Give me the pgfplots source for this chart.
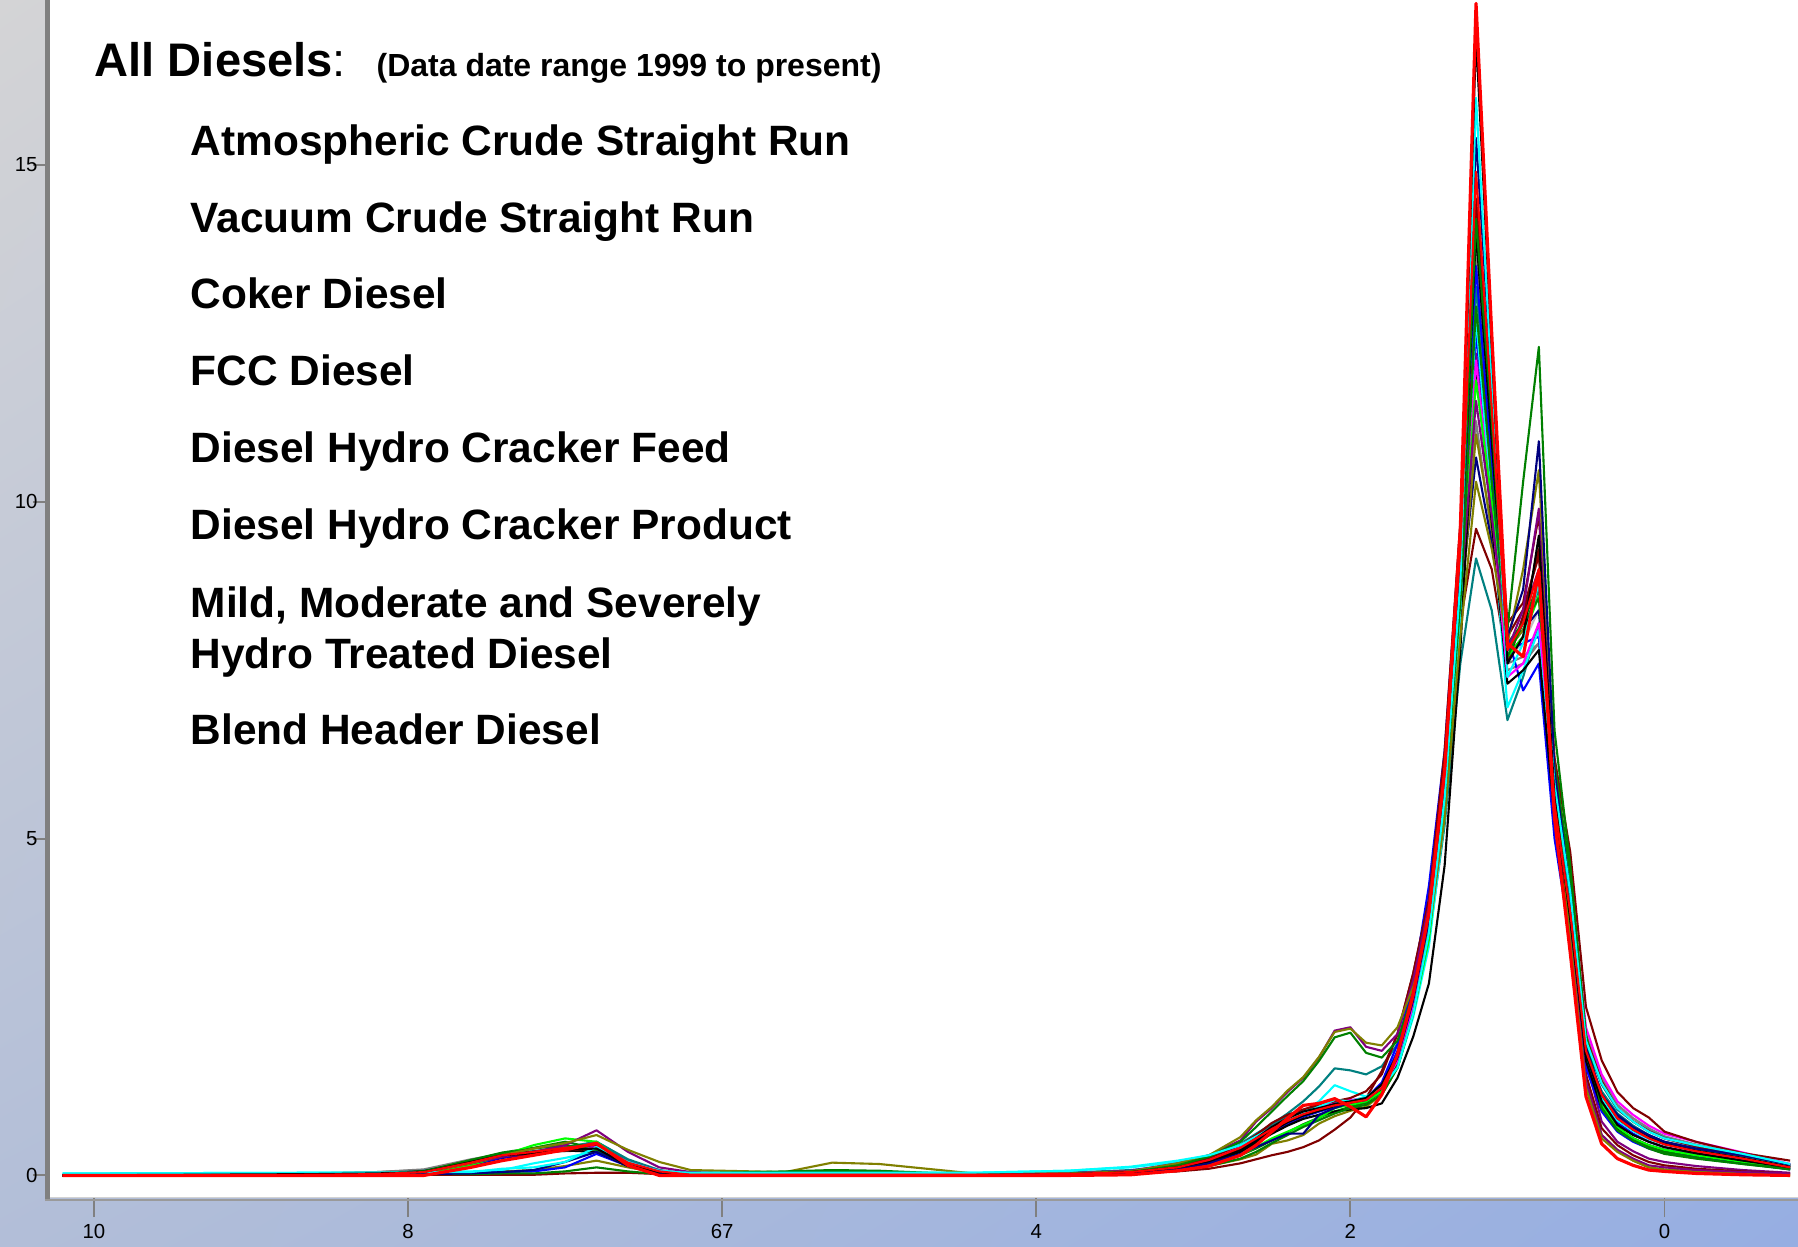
\documentclass[border=0pt]{standalone}
\usepackage{pgfplots}
\pgfplotsset{compat=1.18}
\usetikzlibrary{shadings}
\usepackage{fontspec}
\setmainfont{Liberation Sans}

\definecolor{bgUL}{RGB}{212,212,214}
\definecolor{bgUR}{RGB}{176,190,222}
\definecolor{bgLL}{RGB}{178,190,216}
\definecolor{bgLR}{RGB}{150,174,226}
\definecolor{axgray}{RGB}{128,128,128}
\definecolor{cnavy}{RGB}{0,0,128}
\definecolor{cmaroon}{RGB}{128,0,0}
\definecolor{colive}{RGB}{128,128,0}
\definecolor{cteal}{RGB}{0,128,128}
\definecolor{cpurple}{RGB}{128,0,128}
\definecolor{cgreen}{RGB}{0,128,0}
\definecolor{clime}{RGB}{0,255,0}
\definecolor{cgray}{RGB}{128,128,128}
\definecolor{csilver}{RGB}{192,192,192}
\definecolor{ccyan}{RGB}{0,255,255}
\definecolor{cmagenta}{RGB}{255,0,255}
\definecolor{cblue}{RGB}{0,0,255}
\definecolor{cred}{RGB}{255,0,0}

\begin{document}
\begin{tikzpicture}
% background gradient behind the plot area
\shade[upper left=bgUL, upper right=bgUR, lower left=bgLL, lower right=bgLR]
  (-5mm,-4.9mm) rectangle (174.8mm,119.7mm);

\begin{axis}[
  at={(0,0)}, anchor=south west,
  scale only axis, width=174.8mm, height=119.7mm,
  x dir=reverse,
  xmin=-0.85, xmax=10.28,
  ymin=-0.32, ymax=17.45,
  axis background/.style={fill=white},
  axis line style={draw=none},
  xtick={10,8,6,4,2,0},
  xticklabels={10,8,67,4,2,0},
  ytick={0,5,10,15},
  xtick pos=bottom, ytick pos=left,
  tick align=outside,
  xtick style={/pgfplots/major tick length=2.0mm, draw=axgray, line width=0.55pt},
  ytick style={/pgfplots/major tick length=1.7mm, draw=axgray, line width=0.55pt},
  ticklabel style={font=\fontsize{5.8}{7}\selectfont},
  yticklabel style={xshift=1.5mm},
  /pgf/number format/assume math mode=true,
  every axis plot/.append style={line width=0.6pt, line join=round},
]

\addplot[csilver] coordinates {(10.2,0.01)(8.6,0.02)(8.2,0.04)(7.9,0.07)(7.6,0.2)(7.4,0.29)(7.2,0.33)(7.0,0.37)(6.8,0.4)(6.6,0.17)(6.4,0.05)(6.2,0.02)(5.6,0.02)(5.3,0.02)(5.0,0.02)(4.7,0.02)(4.4,0.02)(3.8,0.03)(3.4,0.06)(3.1,0.13)(2.9,0.25)(2.7,0.43)(2.6,0.57)(2.5,0.72)(2.4,0.84)(2.3,0.93)(2.2,0.99)(2.1,1.05)(2.0,1.09)(1.9,1.13)(1.8,1.3)(1.7,1.7)(1.6,2.5)(1.5,3.7)(1.4,5.7)(1.3,8.7)(1.2,12.3)(1.1,10.1)(1.0,7.7)(0.9,7.9)(0.8,8.4)(0.7,5.7)(0.6,4.1)(0.5,2.0)(0.4,1.4)(0.3,1.02)(0.2,0.82)(0.1,0.68)(0.0,0.58)(-0.2,0.45)(-0.5,0.32)(-0.8,0.16)};

\addplot[cgray] coordinates {(10.2,0.01)(8.6,0.03)(8.2,0.05)(7.9,0.08)(7.6,0.22)(7.4,0.3)(7.2,0.34)(7.0,0.36)(6.8,0.38)(6.6,0.15)(6.4,0.05)(6.2,0.03)(5.6,0.03)(5.3,0.03)(5.0,0.03)(4.7,0.03)(4.4,0.03)(3.8,0.04)(3.4,0.07)(3.1,0.14)(2.9,0.26)(2.7,0.45)(2.6,0.6)(2.5,0.74)(2.4,0.86)(2.3,0.95)(2.2,1.0)(2.1,1.06)(2.0,1.1)(1.9,1.15)(1.8,1.32)(1.7,1.75)(1.6,2.55)(1.5,3.7)(1.4,5.8)(1.3,9.1)(1.2,13.8)(1.1,10.8)(1.0,7.6)(0.9,7.7)(0.8,7.9)(0.7,5.4)(0.6,4.0)(0.5,1.95)(0.4,1.37)(0.3,1.0)(0.2,0.8)(0.1,0.65)(0.0,0.55)(-0.2,0.43)(-0.5,0.3)(-0.8,0.14)};

\addplot[cgray] coordinates {(10.2,0.01)(8.6,0.03)(8.2,0.05)(7.9,0.09)(7.6,0.24)(7.4,0.32)(7.2,0.36)(7.0,0.38)(6.8,0.36)(6.6,0.16)(6.4,0.05)(6.2,0.02)(5.6,0.02)(5.3,0.02)(5.0,0.02)(4.7,0.02)(4.4,0.02)(3.8,0.03)(3.4,0.06)(3.1,0.13)(2.9,0.25)(2.7,0.44)(2.6,0.58)(2.5,0.72)(2.4,0.85)(2.3,0.94)(2.2,1.0)(2.1,1.07)(2.0,1.1)(1.9,1.14)(1.8,1.3)(1.7,1.72)(1.6,2.55)(1.5,3.75)(1.4,5.8)(1.3,8.4)(1.2,11.2)(1.1,9.5)(1.0,7.5)(0.9,7.6)(0.8,7.9)(0.7,5.6)(0.6,4.2)(0.5,2.1)(0.4,1.45)(0.3,1.05)(0.2,0.85)(0.1,0.7)(0.0,0.58)(-0.2,0.46)(-0.5,0.32)(-0.8,0.16)};

\addplot[cteal] coordinates {(10.2,0)(8.6,0.01)(8.2,0.03)(7.9,0.07)(7.6,0.2)(7.4,0.31)(7.2,0.36)(7.0,0.42)(6.8,0.5)(6.6,0.22)(6.4,0.07)(6.2,0.02)(5.6,0.02)(5.3,0.02)(5.0,0.02)(4.7,0.02)(4.4,0.02)(3.8,0.04)(3.4,0.08)(3.1,0.15)(2.9,0.27)(2.7,0.47)(2.6,0.62)(2.5,0.76)(2.4,0.88)(2.3,0.96)(2.2,1.02)(2.1,1.08)(2.0,1.1)(1.9,1.14)(1.8,1.33)(1.7,1.8)(1.6,2.65)(1.5,3.85)(1.4,5.9)(1.3,9.0)(1.2,13.2)(1.1,10.6)(1.0,7.8)(0.9,8.1)(0.8,8.7)(0.7,5.8)(0.6,4.1)(0.5,1.95)(0.4,1.35)(0.3,0.98)(0.2,0.8)(0.1,0.66)(0.0,0.56)(-0.2,0.44)(-0.5,0.31)(-0.8,0.16)};

\addplot[cteal] coordinates {(10.2,0)(8.6,0.01)(8.2,0.02)(7.9,0.05)(7.6,0.18)(7.4,0.29)(7.2,0.34)(7.0,0.4)(6.8,0.5)(6.6,0.24)(6.4,0.08)(6.2,0.02)(5.6,0.02)(5.3,0.02)(5.0,0.02)(4.7,0.02)(4.4,0.02)(3.8,0.03)(3.4,0.06)(3.1,0.14)(2.9,0.26)(2.7,0.46)(2.6,0.6)(2.5,0.76)(2.4,0.92)(2.3,1.1)(2.2,1.32)(2.1,1.59)(2.0,1.56)(1.9,1.5)(1.8,1.62)(1.7,1.95)(1.6,2.6)(1.5,3.5)(1.4,5.2)(1.3,7.6)(1.2,9.16)(1.1,8.39)(1.0,6.76)(0.9,7.4)(0.8,8.2)(0.7,5.4)(0.6,3.8)(0.5,1.8)(0.4,1.25)(0.3,0.92)(0.2,0.74)(0.1,0.6)(0.0,0.5)(-0.2,0.4)(-0.5,0.28)(-0.8,0.14)};

\addplot[cnavy] coordinates {(10.2,0)(8.6,0.01)(8.2,0.02)(7.9,0.04)(7.6,0.15)(7.4,0.26)(7.2,0.32)(7.0,0.38)(6.8,0.4)(6.6,0.16)(6.4,0.05)(6.2,0.01)(5.6,0.01)(5.3,0.01)(5.0,0.01)(4.7,0.01)(4.4,0.01)(3.8,0.02)(3.4,0.05)(3.1,0.11)(2.9,0.21)(2.7,0.38)(2.6,0.5)(2.5,0.64)(2.4,0.77)(2.3,0.87)(2.2,0.95)(2.1,1.02)(2.0,1.06)(1.9,1.1)(1.8,1.28)(1.7,1.7)(1.6,2.55)(1.5,3.75)(1.4,5.8)(1.3,8.5)(1.2,10.66)(1.1,9.4)(1.0,7.9)(0.9,8.1)(0.8,8.39)(0.7,5.5)(0.6,3.8)(0.5,1.8)(0.4,1.2)(0.3,0.88)(0.2,0.7)(0.1,0.58)(0.0,0.48)(-0.2,0.38)(-0.5,0.27)(-0.8,0.13)};

\addplot[cpurple] coordinates {(10.2,0)(8.6,0.01)(8.2,0.02)(7.9,0.05)(7.6,0.17)(7.4,0.28)(7.2,0.33)(7.0,0.38)(6.8,0.44)(6.6,0.2)(6.4,0.07)(6.2,0.02)(5.6,0.01)(5.3,0.01)(5.0,0.01)(4.7,0.01)(4.4,0.01)(3.8,0.02)(3.4,0.05)(3.1,0.1)(2.9,0.2)(2.7,0.36)(2.6,0.5)(2.5,0.64)(2.4,0.78)(2.3,0.88)(2.2,0.96)(2.1,1.03)(2.0,1.07)(1.9,1.12)(1.8,1.32)(1.7,1.78)(1.6,2.6)(1.5,3.8)(1.4,5.8)(1.3,8.8)(1.2,12.2)(1.1,10.0)(1.0,7.6)(0.9,8.3)(0.8,9.0)(0.7,6.1)(0.6,4.3)(0.5,1.7)(0.4,0.8)(0.3,0.5)(0.2,0.36)(0.1,0.25)(0.0,0.2)(-0.2,0.14)(-0.5,0.08)(-0.8,0.04)};

\addplot[colive] coordinates {(10.2,0)(8.6,0.01)(8.2,0.01)(7.9,0.02)(7.6,0.04)(7.4,0.06)(7.2,0.08)(7.0,0.14)(6.8,0.22)(6.6,0.12)(6.4,0.04)(6.2,0.01)(5.6,0.01)(5.3,0.01)(5.0,0.01)(4.7,0.01)(4.4,0.01)(3.8,0.02)(3.4,0.04)(3.1,0.08)(2.9,0.14)(2.7,0.24)(2.6,0.31)(2.5,0.47)(2.4,0.52)(2.3,0.6)(2.2,0.77)(2.1,0.88)(2.0,0.96)(1.9,1.02)(1.8,1.2)(1.7,1.6)(1.6,2.4)(1.5,3.5)(1.4,5.4)(1.3,8.3)(1.2,11.0)(1.1,9.6)(1.0,7.8)(0.9,8.1)(0.8,8.6)(0.7,5.6)(0.6,3.6)(0.5,1.4)(0.4,0.6)(0.3,0.38)(0.2,0.22)(0.1,0.12)(0.0,0.09)(-0.2,0.06)(-0.5,0.03)(-0.8,0.01)};

\addplot[cmaroon] coordinates {(10.2,0)(8.6,0.02)(8.2,0.03)(7.9,0.06)(7.6,0.2)(7.4,0.3)(7.2,0.35)(7.0,0.4)(6.8,0.43)(6.6,0.18)(6.4,0.06)(6.2,0.02)(5.6,0.02)(5.3,0.02)(5.0,0.02)(4.7,0.02)(4.4,0.02)(3.8,0.03)(3.4,0.06)(3.1,0.13)(2.9,0.24)(2.7,0.42)(2.6,0.56)(2.5,0.7)(2.4,0.82)(2.3,0.92)(2.2,0.98)(2.1,1.05)(2.0,1.09)(1.9,1.13)(1.8,1.33)(1.7,1.82)(1.6,2.7)(1.5,3.95)(1.4,6.1)(1.3,9.3)(1.2,12.8)(1.1,10.6)(1.0,8.0)(0.9,8.4)(0.8,9.2)(0.7,5.9)(0.6,4.3)(0.5,2.05)(0.4,1.4)(0.3,1.0)(0.2,0.8)(0.1,0.66)(0.0,0.55)(-0.2,0.43)(-0.5,0.3)(-0.8,0.15)};

\addplot[cmaroon] coordinates {(10.2,0)(8.6,0)(8.2,0.01)(7.9,0.01)(7.6,0.01)(7.4,0.01)(7.2,0.01)(7.0,0.03)(6.8,0.04)(6.6,0.04)(6.4,0.02)(6.2,0.01)(5.6,0.01)(5.3,0.01)(5.0,0.01)(4.7,0.01)(4.4,0.01)(3.8,0.01)(3.4,0.03)(3.1,0.06)(2.9,0.1)(2.7,0.18)(2.6,0.24)(2.5,0.3)(2.4,0.35)(2.3,0.42)(2.2,0.52)(2.1,0.68)(2.0,0.86)(1.9,1.15)(1.8,1.55)(1.7,2.1)(1.6,3.0)(1.5,4.1)(1.4,6.0)(1.3,8.2)(1.2,9.6)(1.1,9.0)(1.0,7.6)(0.9,8.3)(0.8,9.3)(0.7,5.7)(0.6,3.6)(0.5,1.5)(0.4,0.7)(0.3,0.45)(0.2,0.3)(0.1,0.2)(0.0,0.15)(-0.2,0.1)(-0.5,0.06)(-0.8,0.03)};

\addplot[cgreen] coordinates {(10.2,0)(8.6,0.01)(8.2,0.02)(7.9,0.06)(7.6,0.23)(7.4,0.34)(7.2,0.41)(7.0,0.5)(6.8,0.4)(6.6,0.17)(6.4,0.04)(6.2,0.01)(5.6,0.01)(5.3,0.01)(5.0,0.01)(4.7,0.01)(4.4,0.01)(3.8,0.02)(3.4,0.04)(3.1,0.09)(2.9,0.17)(2.7,0.3)(2.6,0.4)(2.5,0.52)(2.4,0.64)(2.3,0.76)(2.2,0.86)(2.1,0.95)(2.0,1.02)(1.9,1.08)(1.8,1.24)(1.7,1.65)(1.6,2.45)(1.5,3.6)(1.4,5.6)(1.3,8.6)(1.2,12.6)(1.1,10.3)(1.0,7.9)(0.9,8.2)(0.8,8.8)(0.7,6.0)(0.6,4.4)(0.5,2.0)(0.4,1.05)(0.3,0.7)(0.2,0.55)(0.1,0.44)(0.0,0.36)(-0.2,0.28)(-0.5,0.19)(-0.8,0.09)};

\addplot[cblue] coordinates {(10.2,0)(8.6,0.01)(8.2,0.02)(7.9,0.04)(7.6,0.16)(7.4,0.27)(7.2,0.33)(7.0,0.38)(6.8,0.43)(6.6,0.18)(6.4,0.06)(6.2,0.01)(5.6,0.01)(5.3,0.01)(5.0,0.01)(4.7,0.01)(4.4,0.01)(3.8,0.02)(3.4,0.05)(3.1,0.12)(2.9,0.22)(2.7,0.4)(2.6,0.53)(2.5,0.68)(2.4,0.8)(2.3,0.9)(2.2,0.97)(2.1,1.04)(2.0,1.08)(1.9,1.13)(1.8,1.34)(1.7,1.85)(1.6,2.75)(1.5,4.0)(1.4,6.1)(1.3,9.2)(1.2,12.5)(1.1,10.2)(1.0,7.8)(0.9,7.9)(0.8,8.0)(0.7,5.3)(0.6,3.7)(0.5,1.7)(0.4,1.1)(0.3,0.78)(0.2,0.62)(0.1,0.5)(0.0,0.42)(-0.2,0.33)(-0.5,0.22)(-0.8,0.1)};

\addplot[cblue] coordinates {(10.2,0)(8.6,0.01)(8.2,0.02)(7.9,0.03)(7.6,0.04)(7.4,0.05)(7.2,0.06)(7.0,0.12)(6.8,0.32)(6.6,0.14)(6.4,0.04)(6.2,0.01)(5.6,0.01)(5.3,0.01)(5.0,0.01)(4.7,0.01)(4.4,0.01)(3.8,0.02)(3.4,0.05)(3.1,0.11)(2.9,0.21)(2.7,0.39)(2.6,0.52)(2.5,0.66)(2.4,0.78)(2.3,0.88)(2.2,0.95)(2.1,1.02)(2.0,1.07)(1.9,1.14)(1.8,1.38)(1.7,1.95)(1.6,2.85)(1.5,4.3)(1.4,6.3)(1.3,9.6)(1.2,13.5)(1.1,10.6)(1.0,8.0)(0.9,7.2)(0.8,7.6)(0.7,5.0)(0.6,3.5)(0.5,1.6)(0.4,0.95)(0.3,0.65)(0.2,0.5)(0.1,0.4)(0.0,0.33)(-0.2,0.26)(-0.5,0.18)(-0.8,0.09)};

\addplot[ccyan] coordinates {(10.2,0.03)(8.6,0.04)(8.2,0.04)(7.9,0.05)(7.6,0.06)(7.4,0.08)(7.2,0.18)(7.0,0.26)(6.8,0.36)(6.6,0.18)(6.4,0.07)(6.2,0.04)(5.6,0.04)(5.3,0.05)(5.0,0.04)(4.7,0.04)(4.4,0.04)(3.8,0.07)(3.4,0.12)(3.1,0.2)(2.9,0.3)(2.7,0.46)(2.6,0.58)(2.5,0.7)(2.4,0.82)(2.3,0.95)(2.2,1.1)(2.1,1.34)(2.0,1.25)(1.9,1.17)(1.8,1.3)(1.7,1.6)(1.6,2.35)(1.5,3.4)(1.4,5.3)(1.3,8.3)(1.2,12.75)(1.1,9.9)(1.0,6.95)(0.9,7.5)(0.8,8.1)(0.7,5.5)(0.6,3.9)(0.5,1.75)(0.4,1.15)(0.3,0.82)(0.2,0.66)(0.1,0.54)(0.0,0.46)(-0.2,0.37)(-0.5,0.26)(-0.8,0.14)};

\addplot[black] coordinates {(10.2,0)(8.6,0.01)(8.2,0.02)(7.9,0.06)(7.6,0.21)(7.4,0.31)(7.2,0.35)(7.0,0.39)(6.8,0.44)(6.6,0.17)(6.4,0.05)(6.2,0.01)(5.6,0.01)(5.3,0.01)(5.0,0.01)(4.7,0.01)(4.4,0.01)(3.8,0.02)(3.4,0.05)(3.1,0.11)(2.9,0.21)(2.7,0.38)(2.6,0.51)(2.5,0.66)(2.4,0.79)(2.3,0.89)(2.2,0.96)(2.1,1.03)(2.0,1.07)(1.9,1.11)(1.8,1.28)(1.7,1.7)(1.6,2.5)(1.5,3.7)(1.4,5.8)(1.3,9.0)(1.2,14.0)(1.1,10.9)(1.0,7.7)(0.9,8.0)(0.8,8.8)(0.7,5.5)(0.6,3.9)(0.5,1.85)(0.4,1.2)(0.3,0.85)(0.2,0.68)(0.1,0.56)(0.0,0.47)(-0.2,0.37)(-0.5,0.26)(-0.8,0.13)};

\addplot[black] coordinates {(10.2,0)(8.6,0.01)(8.2,0.02)(7.9,0.05)(7.6,0.19)(7.4,0.3)(7.2,0.34)(7.0,0.37)(6.8,0.35)(6.6,0.14)(6.4,0.04)(6.2,0)(5.6,0)(5.3,0)(5.0,0)(4.7,0)(4.4,0)(3.8,0.02)(3.4,0.05)(3.1,0.1)(2.9,0.19)(2.7,0.35)(2.6,0.48)(2.5,0.62)(2.4,0.74)(2.3,0.84)(2.2,0.9)(2.1,0.95)(2.0,0.98)(1.9,1.0)(1.8,1.07)(1.7,1.45)(1.6,2.06)(1.5,2.85)(1.4,4.6)(1.3,7.8)(1.2,12.05)(1.1,9.7)(1.0,7.3)(0.9,7.5)(0.8,7.8)(0.7,5.3)(0.6,3.7)(0.5,1.7)(0.4,1.0)(0.3,0.7)(0.2,0.55)(0.1,0.45)(0.0,0.38)(-0.2,0.3)(-0.5,0.2)(-0.8,0.12)};

\addplot[cmagenta] coordinates {(10.2,0)(8.6,0.01)(8.2,0.02)(7.9,0.05)(7.6,0.18)(7.4,0.29)(7.2,0.34)(7.0,0.39)(6.8,0.42)(6.6,0.18)(6.4,0.06)(6.2,0.02)(5.6,0.02)(5.3,0.02)(5.0,0.02)(4.7,0.02)(4.4,0.02)(3.8,0.03)(3.4,0.06)(3.1,0.13)(2.9,0.24)(2.7,0.43)(2.6,0.57)(2.5,0.71)(2.4,0.83)(2.3,0.93)(2.2,1.0)(2.1,1.1)(2.0,1.12)(1.9,1.15)(1.8,1.3)(1.7,1.7)(1.6,2.5)(1.5,3.7)(1.4,5.7)(1.3,8.7)(1.2,12.1)(1.1,9.9)(1.0,7.4)(0.9,7.6)(0.8,8.2)(0.7,5.9)(0.6,4.4)(0.5,2.2)(0.4,1.5)(0.3,1.1)(0.2,0.9)(0.1,0.74)(0.0,0.62)(-0.2,0.5)(-0.5,0.34)(-0.8,0.17)};

\addplot[clime] coordinates {(10.2,0)(8.6,0.01)(8.2,0.02)(7.9,0.04)(7.6,0.15)(7.4,0.3)(7.2,0.45)(7.0,0.55)(6.8,0.5)(6.6,0.15)(6.4,0.03)(6.2,0.01)(5.6,0.01)(5.3,0.02)(5.0,0.01)(4.7,0.01)(4.4,0.01)(3.8,0.02)(3.4,0.04)(3.1,0.09)(2.9,0.17)(2.7,0.3)(2.6,0.42)(2.5,0.55)(2.4,0.65)(2.3,0.75)(2.2,0.85)(2.1,1.0)(2.0,1.05)(1.9,1.1)(1.8,1.25)(1.7,1.6)(1.6,2.4)(1.5,3.5)(1.4,5.5)(1.3,8.6)(1.2,11.8)(1.1,10.0)(1.0,7.7)(0.9,8.0)(0.8,8.6)(0.7,6.0)(0.6,4.4)(0.5,2.0)(0.4,1.05)(0.3,0.72)(0.2,0.55)(0.1,0.45)(0.0,0.38)(-0.2,0.3)(-0.5,0.2)(-0.8,0.1)};

\addplot[cmaroon] coordinates {(10.2,0)(8.6,0.01)(8.2,0.02)(7.9,0.05)(7.6,0.18)(7.4,0.28)(7.2,0.33)(7.0,0.37)(6.8,0.4)(6.6,0.17)(6.4,0.05)(6.2,0.01)(5.6,0.01)(5.3,0.01)(5.0,0.01)(4.7,0.01)(4.4,0.01)(3.8,0.02)(3.4,0.06)(3.1,0.14)(2.9,0.26)(2.7,0.45)(2.6,0.6)(2.5,0.78)(2.4,0.9)(2.3,0.98)(2.2,1.05)(2.1,1.1)(2.0,1.15)(1.9,1.25)(1.8,1.5)(1.7,2.1)(1.6,3.0)(1.5,4.1)(1.4,6.3)(1.3,9.7)(1.2,14.5)(1.1,11.5)(1.0,8.2)(0.9,8.5)(0.8,9.8)(0.7,6.2)(0.6,4.8)(0.5,2.5)(0.4,1.71)(0.3,1.24)(0.2,1.0)(0.1,0.86)(0.0,0.65)(-0.2,0.5)(-0.5,0.33)(-0.8,0.22)};

\addplot[cgreen] coordinates {(10.2,0)(8.6,0.01)(8.2,0.03)(7.9,0.06)(7.6,0.22)(7.4,0.33)(7.2,0.4)(7.0,0.45)(6.8,0.38)(6.6,0.18)(6.4,0.05)(6.2,0.01)(5.6,0.05)(5.3,0.07)(5.0,0.06)(4.7,0.03)(4.4,0.01)(3.8,0.01)(3.4,0.03)(3.1,0.08)(2.9,0.14)(2.7,0.25)(2.6,0.35)(2.5,0.48)(2.4,0.6)(2.3,0.72)(2.2,0.82)(2.1,0.92)(2.0,1.0)(1.9,1.05)(1.8,1.2)(1.7,1.6)(1.6,2.4)(1.5,3.6)(1.4,5.7)(1.3,9.0)(1.2,14.2)(1.1,11.2)(1.0,7.7)(0.9,8.2)(0.8,8.57)(0.7,6.1)(0.6,4.5)(0.5,2.1)(0.4,1.0)(0.3,0.67)(0.2,0.52)(0.1,0.4)(0.0,0.32)(-0.2,0.25)(-0.5,0.17)(-0.8,0.1)};

\addplot[cpurple] coordinates {(10.2,0)(8.6,0.01)(8.2,0.02)(7.9,0.04)(7.6,0.18)(7.4,0.28)(7.2,0.35)(7.0,0.45)(6.8,0.67)(6.6,0.35)(6.4,0.12)(6.2,0.05)(5.6,0.02)(5.3,0.02)(5.0,0.02)(4.7,0.02)(4.4,0.02)(3.8,0.03)(3.4,0.07)(3.1,0.18)(2.9,0.3)(2.7,0.52)(2.6,0.8)(2.5,1.0)(2.4,1.24)(2.3,1.45)(2.2,1.75)(2.1,2.15)(2.0,2.2)(1.9,1.91)(1.8,1.85)(1.7,2.1)(1.6,2.9)(1.5,4.0)(1.4,6.0)(1.3,8.6)(1.2,11.5)(1.1,9.8)(1.0,7.8)(0.9,8.4)(0.8,9.9)(0.7,5.8)(0.6,3.6)(0.5,1.4)(0.4,0.6)(0.3,0.38)(0.2,0.25)(0.1,0.15)(0.0,0.12)(-0.2,0.08)(-0.5,0.05)(-0.8,0.03)};

\addplot[colive] coordinates {(10.2,0)(8.6,0.01)(8.2,0.02)(7.9,0.04)(7.6,0.18)(7.4,0.3)(7.2,0.4)(7.0,0.48)(6.8,0.6)(6.6,0.38)(6.4,0.2)(6.2,0.08)(5.6,0.05)(5.3,0.19)(5.0,0.17)(4.7,0.1)(4.4,0.03)(3.8,0.03)(3.4,0.06)(3.1,0.18)(2.9,0.3)(2.7,0.57)(2.6,0.82)(2.5,1.02)(2.4,1.26)(2.3,1.46)(2.2,1.76)(2.1,2.13)(2.0,2.18)(1.9,1.97)(1.8,1.93)(1.7,2.2)(1.6,2.8)(1.5,3.6)(1.4,5.3)(1.3,8.0)(1.2,10.3)(1.1,9.3)(1.0,7.9)(0.9,9.0)(0.8,10.47)(0.7,6.0)(0.6,3.5)(0.5,1.3)(0.4,0.55)(0.3,0.35)(0.2,0.22)(0.1,0.12)(0.0,0.08)(-0.2,0.05)(-0.5,0.02)(-0.8,0)};

\addplot[cgreen] coordinates {(10.2,0)(8.6,0.01)(8.2,0.01)(7.9,0.02)(7.6,0.02)(7.4,0.03)(7.2,0.03)(7.0,0.06)(6.8,0.12)(6.6,0.06)(6.4,0.02)(6.2,0.03)(5.6,0.06)(5.3,0.08)(5.0,0.07)(4.7,0.04)(4.4,0.02)(3.8,0.02)(3.4,0.05)(3.1,0.15)(2.9,0.28)(2.7,0.5)(2.6,0.72)(2.5,0.95)(2.4,1.18)(2.3,1.4)(2.2,1.7)(2.1,2.05)(2.0,2.12)(1.9,1.82)(1.8,1.75)(1.7,2.0)(1.6,2.7)(1.5,3.8)(1.4,5.6)(1.3,8.5)(1.2,12.9)(1.1,10.3)(1.0,8.1)(0.9,10.3)(0.8,12.3)(0.7,6.6)(0.6,4.6)(0.5,2.0)(0.4,1.0)(0.3,0.67)(0.2,0.52)(0.1,0.42)(0.0,0.34)(-0.2,0.26)(-0.5,0.17)(-0.8,0.09)};

\addplot[cnavy] coordinates {(10.2,0)(8.6,0.01)(8.2,0.02)(7.9,0.02)(7.6,0.03)(7.4,0.05)(7.2,0.08)(7.0,0.2)(6.8,0.35)(6.6,0.15)(6.4,0.04)(6.2,0.01)(5.6,0.01)(5.3,0.01)(5.0,0.01)(4.7,0.01)(4.4,0.01)(3.8,0.02)(3.4,0.04)(3.1,0.09)(2.9,0.18)(2.7,0.32)(2.6,0.42)(2.5,0.52)(2.4,0.62)(2.3,0.62)(2.2,0.9)(2.1,1.0)(2.0,1.08)(1.9,1.12)(1.8,1.3)(1.7,1.75)(1.6,2.6)(1.5,3.8)(1.4,5.9)(1.3,9.2)(1.2,15.4)(1.1,11.8)(1.0,8.0)(0.9,8.7)(0.8,10.9)(0.7,6.0)(0.6,4.2)(0.5,1.9)(0.4,1.2)(0.3,0.9)(0.2,0.72)(0.1,0.6)(0.0,0.5)(-0.2,0.4)(-0.5,0.3)(-0.8,0.16)};

\addplot[ccyan] coordinates {(10.2,0.03)(8.6,0.04)(8.2,0.04)(7.9,0.05)(7.6,0.05)(7.4,0.1)(7.2,0.12)(7.0,0.2)(6.8,0.42)(6.6,0.2)(6.4,0.06)(6.2,0.04)(5.6,0.04)(5.3,0.04)(5.0,0.04)(4.7,0.04)(4.4,0.04)(3.8,0.07)(3.4,0.13)(3.1,0.22)(2.9,0.3)(2.7,0.45)(2.6,0.58)(2.5,0.7)(2.4,0.82)(2.3,0.92)(2.2,1.02)(2.1,1.12)(2.0,1.1)(1.9,1.17)(1.8,1.3)(1.7,1.6)(1.6,2.4)(1.5,3.6)(1.4,5.6)(1.3,8.8)(1.2,16.0)(1.1,11.8)(1.0,7.4)(0.9,7.9)(0.8,8.8)(0.7,5.8)(0.6,4.2)(0.5,2.0)(0.4,1.37)(0.3,1.0)(0.2,0.8)(0.1,0.65)(0.0,0.55)(-0.2,0.45)(-0.5,0.32)(-0.8,0.17)};

\addplot[black] coordinates {(10.2,0)(8.6,0.02)(8.2,0.03)(7.9,0.05)(7.6,0.2)(7.4,0.3)(7.2,0.33)(7.0,0.38)(6.8,0.4)(6.6,0.15)(6.4,0.05)(6.2,0)(5.6,0)(5.3,0)(5.0,0)(4.7,0)(4.4,0)(3.8,0.01)(3.4,0.05)(3.1,0.12)(2.9,0.22)(2.7,0.4)(2.6,0.55)(2.5,0.72)(2.4,0.85)(2.3,0.95)(2.2,1.0)(2.1,1.06)(2.0,1.1)(1.9,1.15)(1.8,1.35)(1.7,1.8)(1.6,2.7)(1.5,3.9)(1.4,6.0)(1.3,9.4)(1.2,16.9)(1.1,12.3)(1.0,7.6)(0.9,8.0)(0.8,9.5)(0.7,5.6)(0.6,3.8)(0.5,1.8)(0.4,1.1)(0.3,0.75)(0.2,0.6)(0.1,0.5)(0.0,0.42)(-0.2,0.33)(-0.5,0.22)(-0.8,0.12)};

\addplot[cred] coordinates {(10.2,0)(8.6,0.01)(8.2,0.02)(7.9,0.05)(7.6,0.19)(7.4,0.3)(7.2,0.35)(7.0,0.41)(6.8,0.46)(6.6,0.19)(6.4,0.06)(6.2,0.01)(5.6,0.01)(5.3,0.01)(5.0,0.01)(4.7,0.01)(4.4,0.01)(3.8,0.02)(3.4,0.05)(3.1,0.12)(2.9,0.23)(2.7,0.41)(2.6,0.55)(2.5,0.69)(2.4,0.81)(2.3,0.91)(2.2,0.98)(2.1,1.04)(2.0,1.08)(1.9,1.12)(1.8,1.3)(1.7,1.78)(1.6,2.65)(1.5,3.9)(1.4,6.0)(1.3,9.3)(1.2,14.9)(1.1,11.4)(1.0,7.8)(0.9,8.2)(0.8,9.0)(0.7,5.5)(0.6,3.9)(0.5,1.85)(0.4,1.2)(0.3,0.85)(0.2,0.68)(0.1,0.55)(0.0,0.46)(-0.2,0.36)(-0.5,0.25)(-0.8,0.12)};

\addplot[cred, line width=0.9pt] coordinates {(10.2,0)(8.6,0)(8.2,0)(7.9,0)(7.6,0.12)(7.4,0.22)(7.2,0.3)(7.0,0.38)(6.8,0.48)(6.6,0.15)(6.4,0)(6.2,0)(5.6,0)(5.3,0)(5.0,0)(4.7,0)(4.4,0)(3.8,0)(3.4,0.01)(3.1,0.07)(2.9,0.14)(2.7,0.3)(2.6,0.45)(2.5,0.65)(2.4,0.85)(2.3,1.04)(2.2,1.07)(2.1,1.14)(2.0,1.02)(1.9,0.87)(1.8,1.2)(1.7,1.8)(1.6,2.7)(1.5,3.9)(1.4,6.0)(1.3,9.6)(1.2,17.4)(1.1,12.5)(1.0,7.9)(0.9,7.7)(0.8,8.97)(0.7,5.3)(0.6,3.3)(0.5,1.17)(0.4,0.47)(0.3,0.25)(0.2,0.15)(0.1,0.08)(0.0,0.06)(-0.2,0.03)(-0.5,0.01)(-0.8,0)};

\end{axis}

% axis frame: thick grey left edge, thin double bottom edge
\draw[axgray, line width=1.4pt] (-0.25mm,-0.4mm) -- (-0.25mm,119.7mm);
\draw[gray!35, line width=0.5pt] (0,-0.05mm) -- (174.8mm,-0.05mm);
\draw[axgray!80, line width=0.6pt] (-0.5mm,-0.3mm) -- (174.8mm,-0.3mm);

% title block
\begin{scope}[every node/.style={anchor=base west, inner sep=0pt, text=black}]
\node at (4.4mm,112.0mm) {\fontsize{13.4}{16}\selectfont\textbf{All Diesels}:};
\node at (32.6mm,112.0mm) {\fontsize{9.1}{11}\selectfont\bfseries (Data date range 1999 to present)};
\node at (14.0mm,104.1mm) {\fontsize{12.07}{14}\selectfont\bfseries Atmospheric Crude Straight Run};
\node at (14.0mm,96.45mm) {\fontsize{12.07}{14}\selectfont\bfseries Vacuum Crude Straight Run};
\node at (14.0mm,88.8mm) {\fontsize{12.07}{14}\selectfont\bfseries Coker Diesel};
\node at (14.0mm,81.1mm) {\fontsize{12.07}{14}\selectfont\bfseries FCC Diesel};
\node at (14.0mm,73.4mm) {\fontsize{12.07}{14}\selectfont\bfseries Diesel Hydro Cracker Feed};
\node at (14.0mm,65.7mm) {\fontsize{12.07}{14}\selectfont\bfseries Diesel Hydro Cracker Product};
\node at (14.0mm,58.0mm) {\fontsize{12.07}{14}\selectfont\bfseries Mild, Moderate and Severely};
\node at (14.0mm,52.9mm) {\fontsize{12.07}{14}\selectfont\bfseries Hydro Treated Diesel};
\node at (14.0mm,45.3mm) {\fontsize{12.07}{14}\selectfont\bfseries Blend Header Diesel};
\end{scope}

\pgfresetboundingbox
\useasboundingbox (-5mm,-4.9mm) rectangle (174.8mm,119.7mm);
\end{tikzpicture}
\end{document}
